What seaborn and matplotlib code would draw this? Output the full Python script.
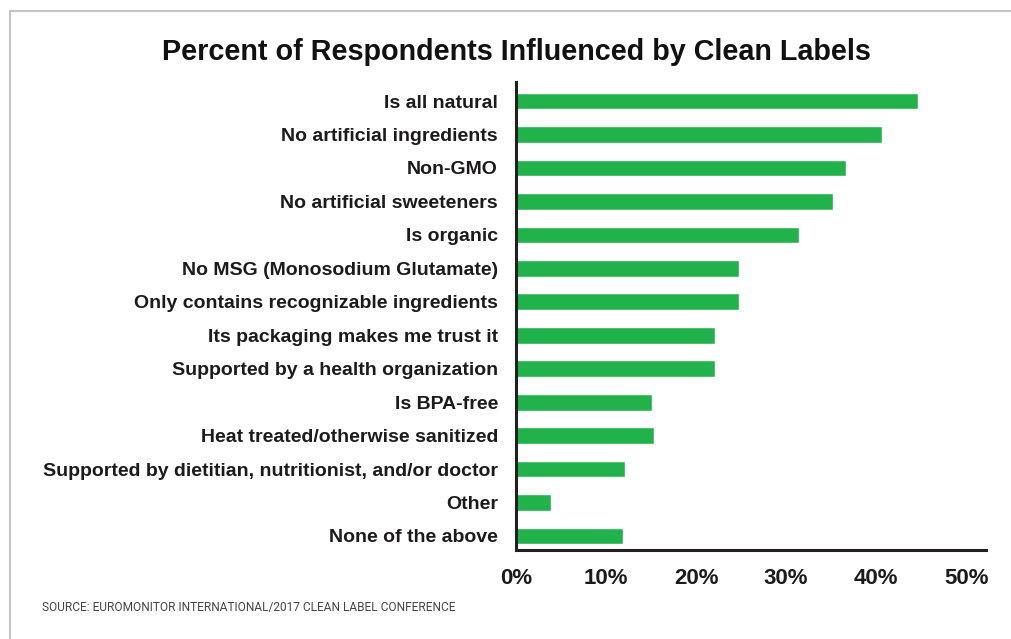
import matplotlib
matplotlib.use('Agg')
import matplotlib.pyplot as plt
import matplotlib.lines as mlines
import pandas as pd
import seaborn as sns

# data
categories = [
    'Is all natural',
    'No artificial ingredients',
    'Non-GMO',
    'No artificial sweeteners',
    'Is organic',
    'No MSG (Monosodium Glutamate)',
    'Only contains recognizable ingredients',
    'Its packaging makes me trust it',
    'Supported by a health organization',
    'Is BPA-free',
    'Heat treated/otherwise sanitized',
    'Supported by dietitian, nutritionist, and/or doctor',
    'Other',
    'None of the above',
]
percent = [44.7, 40.6, 36.6, 35.2, 31.4, 24.8, 24.8, 22.1, 22.1, 15.1, 15.3, 12.1, 3.9, 11.9]
x_ticks = [0, 10, 20, 30, 40, 50]
x_tick_labels = ['0%', '10%', '20%', '30%', '40%', '50%']

df = pd.DataFrame({'label': categories, 'pct': percent})

sns.set_style('white')
plt.rcParams['font.family'] = ['Liberation Sans', 'DejaVu Sans']

fig = plt.figure(figsize=(10.11, 6.39), dpi=100)
ax = fig.add_axes([516 / 1011, 1 - 550 / 639, 470 / 1011, 468 / 639])

sns.barplot(data=df, x='pct', y='label', color='#22b24c', saturation=1,
            width=0.5, ax=ax)

ax.set_xlim(0, 52.2)
ax.set_ylim(13.42, -0.57)
ax.set_xticks(x_ticks)
ax.set_xticklabels(x_tick_labels, fontsize=16, fontweight='bold', color='#1c1a1b')
ax.tick_params(axis='y', length=0, pad=13, labelsize=14, labelcolor='#1c1a1b')
ax.tick_params(axis='x', length=0, pad=13)
for lbl in ax.get_yticklabels():
    lbl.set_fontweight('bold')
ax.set_xlabel('')
ax.set_ylabel('')

sns.despine(ax=ax, top=True, right=True)
ax.spines['left'].set_color('#231f20')
ax.spines['left'].set_linewidth(2.2)
ax.spines['bottom'].set_color('#231f20')
ax.spines['bottom'].set_linewidth(2.2)

# title
fig.text(516 / 1011, 1 - 52 / 639, 'Percent of Respondents Influenced by Clean Labels',
         ha='center', va='center', fontsize=20.7, fontweight='bold',
         family=['Liberation Sans', 'DejaVu Sans'], color='#111111')

# source note
fig.text(42 / 1011, 1 - 607 / 639, 'SOURCE: EUROMONITOR INTERNATIONAL/2017 CLEAN LABEL CONFERENCE',
         ha='left', va='center', fontsize=8.6, family=['Roboto', 'DejaVu Sans'], color='#444444')

# light grey frame on top and left
fig.add_artist(mlines.Line2D([10 / 1011, 10 / 1011], [0, 1 - 11 / 639],
                             transform=fig.transFigure, color='#c4c4c4', lw=1.5))
fig.add_artist(mlines.Line2D([10 / 1011, 1], [1 - 11 / 639, 1 - 11 / 639],
                             transform=fig.transFigure, color='#c4c4c4', lw=1.5))

fig.savefig('out.png', dpi=100)
